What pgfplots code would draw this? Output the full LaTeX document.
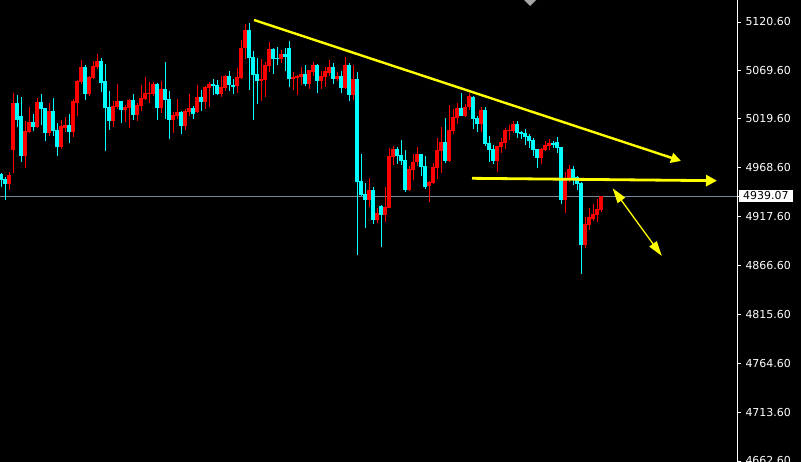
\documentclass[border=0pt]{standalone}
\usepackage{pgfplots}
\pgfplotsset{compat=1.18}
\usepackage{pgfplotstable}
\usepackage{fontspec}
\setmainfont{DejaVu Sans}
\usetikzlibrary{arrows.meta}
\definecolor{bullc}{RGB}{255,0,0}
\definecolor{bearc}{RGB}{0,255,255}
\definecolor{bidline}{RGB}{119,136,153}
\definecolor{trend}{RGB}{255,255,0}

% bullish (red) candles: index, open, high, low, close
\pgfplotstableread{
x o h l c
2 4951.6 4963.8 4945.3 4960.7
3 4987.1 5046.5 4963.4 5036.1
6 4980.8 5017.3 4968.6 5006.9
7 5005.5 5031.9 5004.5 5016.3
9 5010.7 5041.0 5009.7 5037.1
12 5005.1 5036.1 5002.0 5027.7
15 4989.9 5018.4 4988.1 5012.1
16 5010.0 5021.5 5006.2 5013.1
18 5006.2 5040.3 5000.9 5038.2
19 5036.1 5060.1 5022.5 5059.0
20 5058.0 5081.0 5055.9 5073.7
22 5045.5 5064.3 5043.4 5063.2
23 5062.2 5079.9 5061.1 5074.7
24 5073.7 5087.2 5071.6 5079.9
28 5017.3 5038.2 5011.1 5033.0
29 5031.9 5055.9 5029.8 5038.2
31 5028.8 5034.0 5016.3 5031.9
32 5030.9 5040.3 5010.0 5039.2
34 5023.6 5036.1 5017.3 5034.0
35 5033.0 5054.9 5027.7 5041.3
36 5040.3 5063.2 5039.2 5046.5
37 5045.5 5058.0 5036.1 5046.5
38 5045.5 5058.0 5043.4 5055.9
40 5030.9 5059.0 5025.7 5050.7
43 5018.4 5026.7 5004.8 5023.6
44 5022.5 5040.3 5019.4 5026.7
46 5012.1 5029.8 5007.9 5027.7
47 5026.7 5045.5 5022.5 5030.9
49 5026.7 5054.9 5025.7 5042.4
51 5037.1 5053.8 5029.8 5052.8
52 5051.7 5058.0 5031.9 5055.9
55 5045.5 5064.3 5042.4 5052.8
56 5051.7 5065.3 5048.6 5064.3
59 5053.8 5072.6 5046.5 5063.2
60 5062.2 5101.8 5061.1 5093.5
61 5093.2 5118.5 5082.0 5112.3
65 5059.0 5082.0 5038.2 5061.1
66 5060.1 5078.9 5042.4 5075.7
67 5074.7 5099.7 5068.4 5092.4
70 5082.0 5091.4 5077.8 5087.2
73 5061.1 5068.4 5049.7 5063.2
74 5062.2 5064.8 5044.4 5064.3
75 5063.2 5073.7 5054.9 5066.4
77 5055.9 5070.5 5050.7 5070.5
78 5068.4 5078.9 5064.3 5075.7
80 5059.0 5069.5 5050.7 5064.3
81 5063.2 5073.7 5052.8 5069.5
82 5067.4 5081.0 5064.3 5073.7
84 5061.1 5068.4 5059.0 5064.3
86 5051.7 5084.1 5050.7 5075.7
88 5044.4 5075.7 5039.2 5061.1
92 4934.9 4957.8 4927.6 4945.3
94 4914.0 4926.5 4910.9 4921.3
96 4919.2 4948.5 4911.9 4927.6
97 4926.5 4989.1 4926.0 4980.8
98 4979.8 4991.2 4971.4 4988.1
102 4945.3 4970.4 4944.5 4967.2
103 4966.2 4982.9 4955.8 4974.5
104 4974.5 4990.2 4970.4 4982.9
107 4949.5 4954.7 4932.8 4953.7
108 4952.6 4973.5 4951.6 4969.3
109 4968.3 4999.6 4956.8 4987.1
110 4986.0 5011.1 4963.1 4995.4
112 4975.6 5034.0 4974.5 5007.9
113 5006.9 5029.8 5003.8 5021.5
114 5020.4 5036.1 5014.2 5030.9
116 5022.5 5035.1 5021.5 5031.9
117 5031.9 5046.5 5028.8 5043.4
120 5014.2 5031.9 5005.8 5028.8
124 4975.6 4991.2 4964.1 4991.2
125 4990.2 4999.6 4983.9 4995.4
126 4994.4 5010.0 4988.1 5007.9
127 5006.9 5013.1 4997.5 5007.9
128 5006.9 5017.3 5004.8 5014.2
135 4978.7 4989.1 4972.5 4988.1
136 4987.1 4996.4 4986.5 4992.3
137 4991.2 4998.5 4987.1 4994.4
141 4934.9 4964.1 4921.3 4956.8
142 4956.8 4971.4 4953.7 4967.2
146 4887.9 4917.2 4884.8 4909.9
147 4908.8 4926.5 4903.6 4917.2
148 4915.1 4930.7 4913.0 4920.3
149 4919.2 4935.9 4911.9 4925.5
150 4924.5 4939.5 4922.4 4939.07
}\bulltab

% bearish (cyan) candles: index, open, high, low, close
\pgfplotstableread{
x o h l c
0 4961.7 4963.1 4948.8 4955.8
1 4956.8 4958.9 4934.9 4951.9
4 5036.1 5044.4 5011.4 5018.4
5 5022.5 5042.4 4974.9 4980.8
8 5016.3 5024.6 5006.9 5011.1
10 5037.1 5045.5 5013.1 5029.8
11 5030.9 5030.9 4996.4 5005.1
13 5027.7 5041.3 5001.7 5007.2
14 5007.9 5015.2 4981.1 4990.5
17 5013.1 5024.6 4994.7 5006.2
21 5073.7 5075.7 5039.2 5045.5
25 5079.9 5083.0 5047.6 5057.0
26 5059.0 5076.8 4986.0 5030.9
27 5031.9 5048.6 5007.9 5017.3
30 5038.2 5038.2 5015.2 5028.8
33 5039.2 5045.5 5018.4 5023.6
39 5055.9 5057.0 5018.4 5030.9
41 5050.7 5078.9 5019.4 5039.2
42 5040.3 5048.6 4998.5 5018.4
45 5026.7 5027.7 5003.8 5012.1
48 5030.9 5033.0 5019.4 5024.6
50 5042.4 5049.7 5027.7 5037.1
53 5055.9 5061.1 5044.4 5053.8
54 5054.9 5060.1 5044.4 5045.5
57 5064.3 5069.5 5048.6 5054.9
58 5054.9 5061.1 5045.5 5052.8
62 5112.3 5119.6 5049.7 5083.0
63 5084.1 5090.3 5018.4 5065.3
64 5066.4 5083.0 5035.1 5059.0
68 5092.4 5093.5 5066.4 5082.0
69 5083.0 5094.5 5075.7 5082.0
71 5087.2 5093.5 5069.5 5084.1
72 5093.5 5100.8 5052.8 5061.1
76 5066.4 5075.7 5053.8 5055.9
79 5075.7 5076.8 5046.5 5059.0
83 5073.7 5077.8 5055.9 5061.1
85 5064.3 5069.5 5046.5 5051.7
87 5075.7 5077.8 5038.2 5044.4
89 5061.1 5068.4 4877.5 4953.7
90 4954.7 4982.9 4939.1 4940.1
91 4941.2 4952.6 4905.7 4934.9
93 4945.3 4948.5 4909.9 4914.0
95 4928.6 4929.7 4885.9 4919.2
99 4988.1 4990.2 4972.5 4980.8
100 4981.8 4997.5 4971.4 4975.6
101 4976.6 4987.1 4943.2 4945.3
105 4982.9 4982.9 4959.9 4969.3
106 4970.4 4980.8 4946.4 4948.5
111 4995.4 5020.4 4973.5 4975.6
115 5030.9 5046.5 5022.0 5022.5
118 5042.4 5043.4 5009.0 5019.4
119 5020.4 5022.5 5005.8 5014.2
121 5028.8 5031.9 4991.2 4993.3
122 4994.4 5001.7 4974.5 4987.1
123 4988.1 4992.3 4972.5 4975.6
129 5014.2 5017.3 4999.6 5004.8
130 5005.8 5006.9 4998.5 5003.8
131 5004.8 5009.0 4992.3 5000.6
132 5001.7 5003.8 4989.1 4996.4
133 4997.5 4999.6 4980.8 4987.1
134 4988.1 4988.1 4968.3 4978.7
138 4994.4 4996.4 4989.1 4992.3
139 4995.4 5000.6 4983.9 4989.1
140 4990.2 4990.2 4930.7 4934.9
143 4967.2 4970.4 4950.5 4957.8
144 4958.9 4959.9 4945.3 4951.6
145 4952.6 4953.7 4857.7 4887.9
}\beartab

\begin{document}
\begin{tikzpicture}
\useasboundingbox (0,0) rectangle (801bp,462bp);
\fill[black] (0,0) rectangle (801bp,462bp);
\begin{axis}[
  at={(0,0)}, anchor=south west,
  scale only axis, width=737bp, height=462bp,
  xmin=-0.25, xmax=184, ymin=4661.5, ymax=5143.55,
  axis x line=none, axis y line=right,
  y axis line style={white, line width=0.8bp, -},
  ytick={4662.6,4713.6,4764.6,4815.6,4866.6,4917.6,4968.6,5019.6,5069.6,5120.6},
  scaled y ticks=false,
  /pgf/number format/fixed,
  /pgf/number format/fixed zerofill,
  /pgf/number format/precision=2,
  /pgf/number format/1000 sep={},
  /pgf/number format/assume math mode=true,
  tick align=outside, major tick length=4bp,
  ytick style={white, line width=0.8bp},
  yticklabel style={text=white, font=\fontsize{11}{13}\selectfont, xshift=1bp},
  extra y ticks={4939.07},
  extra y tick style={grid=major, major grid style={bidline, line width=0.8bp},
    yticklabel style={fill=white, text=black, inner xsep=4bp, inner ysep=2bp, xshift=-3bp}},
]
% wicks
\addplot[bullc, line width=1bp, quiver={u=0, v=\thisrow{h}-\thisrow{l}}] table[x=x, y=l] {\bulltab};
\addplot[bearc, line width=1bp, quiver={u=0, v=\thisrow{h}-\thisrow{l}}] table[x=x, y=l] {\beartab};
% bodies
\addplot[bullc, line width=3.2bp, quiver={u=0, v=\thisrow{c}-\thisrow{o}}] table[x=x, y=o] {\bulltab};
\addplot[bearc, line width=3.2bp, quiver={u=0, v=\thisrow{c}-\thisrow{o}}] table[x=x, y=o] {\beartab};
% trend annotations
\addplot[trend, line width=2.4bp, -{Triangle[length=10bp,width=10bp]}] coordinates {(63.25,5122.7) (170,4975.6)};
\addplot[trend, line width=2.8bp, -{Triangle[length=11bp,width=11bp]}] coordinates {(117.75,4957.5) (179,4955.0)};
\addplot[trend, line width=1.3bp, {Triangle[length=15bp,width=9bp]}-{Triangle[length=15bp,width=9bp]}] coordinates {(152.9,4947.1) (165.2,4876.5)};
\end{axis}
\fill[gray!70] (524bp,462bp) -- (536bp,462bp) -- (530bp,456bp) -- cycle;
\end{tikzpicture}
\end{document}
